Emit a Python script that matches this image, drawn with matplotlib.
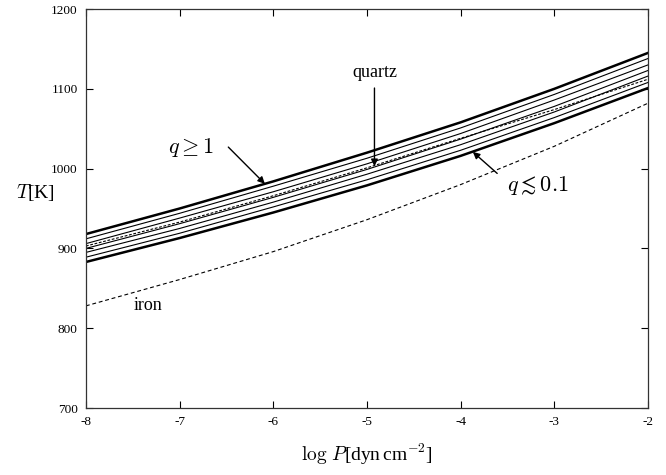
import matplotlib
matplotlib.use("Agg")
import matplotlib.pyplot as plt

# Data
log_p = [-8, -7, -6, -5, -4, -3, -2]
q_high = [918, 950, 984, 1020, 1058, 1100, 1145]   # q >= 1 (thick)
q_mid1 = [912, 944, 978, 1013, 1051, 1093, 1138]
q_mid2 = [906, 938, 971, 1006, 1044, 1086, 1130]
q_mid3 = [900, 931, 964, 999, 1037, 1078, 1123]
q_mid4 = [895, 925, 958, 993, 1030, 1071, 1116]
q_mid5 = [889, 919, 952, 986, 1023, 1064, 1108]
q_low = [883, 913, 945, 979, 1016, 1057, 1101]     # q <~ 0.1 (thick)
quartz = [903, 933, 966, 1001, 1038, 1074, 1112]
iron = [828, 861, 896, 936, 980, 1028, 1082]

x_ticks = [-8, -7, -6, -5, -4, -3, -2]
y_ticks = [700, 800, 900, 1000, 1100, 1200]

plt.rcParams['font.family'] = ['Liberation Serif', 'DejaVu Serif']
plt.rcParams['mathtext.fontset'] = 'cm'

fig = plt.figure(figsize=(6.66, 4.75), dpi=100)
ax = fig.add_axes([0.129, 0.141, 0.844, 0.840])

ax.plot(log_p, q_high, color='black', lw=1.8)
for s in (q_mid1, q_mid2, q_mid3, q_mid4, q_mid5):
    ax.plot(log_p, s, color='black', lw=0.8)
ax.plot(log_p, q_low, color='black', lw=1.8)
ax.plot(log_p, quartz, color='black', lw=0.8, dashes=(2.5, 1.5))
ax.plot(log_p, iron, color='black', lw=0.8, dashes=(3.5, 2.5))

ax.set_xlim(-8, -2)
ax.set_ylim(700, 1200)
ax.set_xticks(x_ticks)
ax.set_yticks(y_ticks)
ax.set_xticklabels([str(v) for v in x_ticks])
ax.tick_params(direction='in', length=5, width=0.8, labelsize=9.5, top=True, right=True, pad=6)
for sp in ax.spines.values():
    sp.set_color('#333333')
    sp.set_linewidth(0.9)

ax.set_xlabel(r'$\log\,P$[dyn$\,$cm$^{-2}$]', fontsize=14, labelpad=10)
ax.set_ylabel(r'$T$[K]', fontsize=14, rotation=0, labelpad=14)
ax.yaxis.set_label_coords(-0.09, 0.515)

arrow = dict(arrowstyle='-|>', color='black', lw=1.0, mutation_scale=10, shrinkA=0, shrinkB=0)

ax.text(-4.92, 1120, 'quartz', ha='center', va='center', fontsize=13)
ax.annotate('', xy=(-4.92, 1003), xytext=(-4.92, 1101), arrowprops=arrow)

ax.text(-6.88, 1026, r'$q \geq 1$', ha='center', va='center', fontsize=16)
ax.annotate('', xy=(-6.09, 981), xytext=(-6.48, 1027), arrowprops=arrow)

ax.text(-3.18, 979, r'$q \lesssim 0.1$', ha='center', va='center', fontsize=16)
ax.annotate('', xy=(-3.87, 1021), xytext=(-3.61, 994), arrowprops=arrow)

ax.text(-7.34, 829, 'iron', ha='center', va='center', fontsize=13)

fig.savefig('out.png', dpi=100)
